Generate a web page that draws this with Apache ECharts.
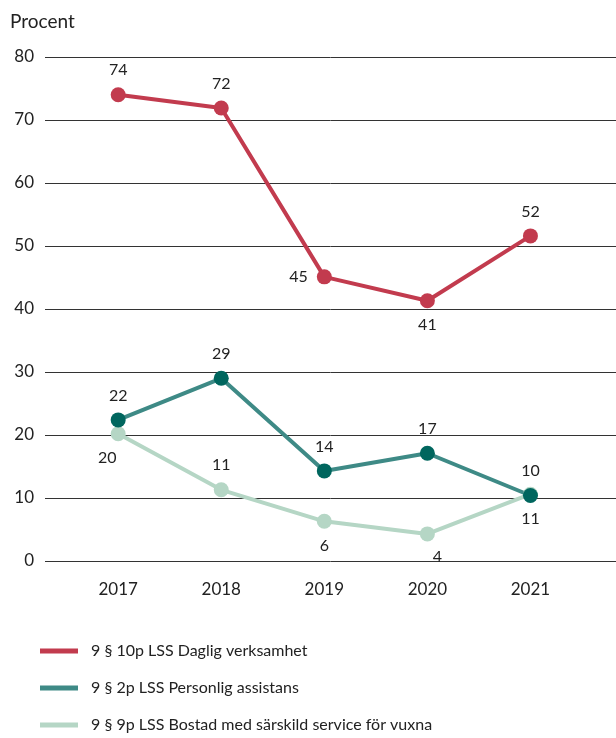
<!DOCTYPE html>
<html>
<head>
<meta charset="utf-8">
<script src="https://cdn.jsdelivr.net/npm/echarts@6/dist/echarts.min.js"></script>
<style>
  html, body { margin: 0; padding: 0; background: #fff; }
  #chart { width: 616px; height: 738px; }
</style>
</head>
<body>
<div id="chart"></div>
<script>
// values
const years = [2017, 2018, 2019, 2020, 2021];
const dagligVerksamhet = [74, 71.9, 45.1, 41.3, 51.6];
const personligAssistans = [22.4, 29, 14.3, 17.1, 10.4];
const bostadService = [20.2, 11.3, 6.3, 4.3, 10.6];
const seriesNames = [
  "9 § 10p LSS Daglig verksamhet",
  "9 § 2p LSS Personlig assistans",
  "9 § 9p LSS Bostad med särskild service för vuxna"
];
const yTicks = [0, 10, 20, 30, 40, 50, 60, 70, 80];

const FONT = "Lato";
const red = "#C23B4E";
const tealLine = "#3E8A86";
const tealDot = "#00665E";
const light = "#B5D6C5";

function pairs(vals) {
  return years.map((y, i) => [y, vals[i]]);
}

function withLabels(vals, positions, offsets) {
  return pairs(vals).map((p, i) => ({
    value: p,
    label: {
      position: positions[i],
      offset: offsets ? offsets[i] : [0, 0]
    }
  }));
}

const labelBase = {
  show: true,
  fontFamily: FONT,
  fontSize: 16,
  color: "#222",
  distance: 9,
  formatter: p => Math.round(p.value[1])
};

let chart = echarts.init(document.getElementById("chart"));
let option = {
  animation: false,
  textStyle: { fontFamily: FONT },
  title: {
    text: "Procent",
    left: 5,
    top: 7,
    textStyle: { fontFamily: FONT, fontSize: 19, fontWeight: "normal", color: "#222" }
  },
  grid: { left: 45, right: 0, top: 57, bottom: 177 },
  xAxis: {
    type: "value",
    min: 2016.29,
    max: 2021.83,
    axisLine: { show: false },
    axisTick: { show: false },
    splitLine: { show: false },
    axisLabel: {
      customValues: years,
      margin: 20,
      fontFamily: FONT,
      fontSize: 17,
      color: "#222",
      formatter: v => String(v)
    }
  },
  yAxis: {
    type: "value",
    min: yTicks[0],
    max: yTicks[yTicks.length - 1],
    interval: 10,
    axisLine: { show: false },
    axisTick: { show: false },
    axisLabel: { margin: 11, fontFamily: FONT, fontSize: 17, color: "#222" },
    splitLine: { lineStyle: { color: "#333", width: 1 } }
  },
  legend: {
    orient: "vertical",
    left: 40,
    top: 641,
    height: 97,
    padding: 0,
    icon: "rect",
    itemWidth: 38,
    itemHeight: 5,
    itemGap: 17,
    textStyle: { fontFamily: FONT, fontSize: 16, color: "#222", padding: [0, 0, 0, 8], lineHeight: 20 },
    data: [
      { name: seriesNames[0], itemStyle: { color: red } },
      { name: seriesNames[1], itemStyle: { color: tealLine } },
      { name: seriesNames[2], itemStyle: { color: light } }
    ]
  },
  series: [
    {
      name: seriesNames[0],
      type: "line",
      symbol: "circle",
      symbolSize: 15,
      lineStyle: { color: red, width: 4 },
      itemStyle: { color: red },
      label: labelBase,
      data: withLabels(dagligVerksamhet, ["top", "top", "left", "bottom", "top"])
    },
    {
      name: seriesNames[2],
      type: "line",
      symbol: "circle",
      symbolSize: 15,
      lineStyle: { color: light, width: 4 },
      itemStyle: { color: light },
      label: labelBase,
      data: withLabels(bostadService, ["bottom", "top", "bottom", "bottom", "bottom"],
        [[-11, 0], [0, 0], [0, 0], [10, -2], [0, 0]])
    },
    {
      name: seriesNames[1],
      type: "line",
      symbol: "circle",
      symbolSize: 15,
      lineStyle: { color: tealLine, width: 4 },
      itemStyle: { color: tealDot },
      label: labelBase,
      data: withLabels(personligAssistans, ["top", "top", "top", "top", "top"])
    }
  ]
};
chart.setOption(option);
</script>
</body>
</html>
